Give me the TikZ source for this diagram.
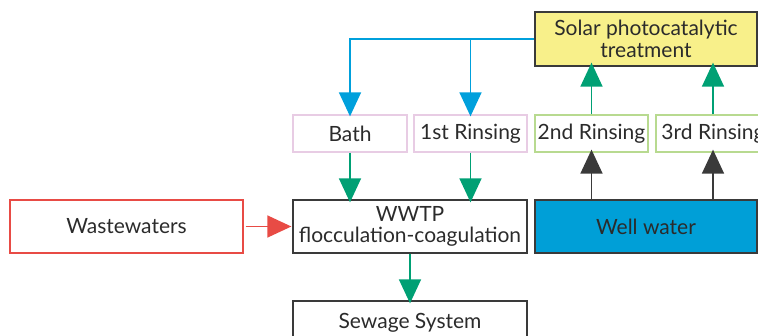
\documentclass[tikz,border=0pt]{standalone}
\usepackage{fontspec}
\setmainfont{Lato}
\usetikzlibrary{arrows.meta}
\definecolor{txt}{HTML}{2B2B2B}
\definecolor{cblue}{HTML}{00A0DC}
\definecolor{cgreen}{HTML}{00A074}
\definecolor{cred}{HTML}{E84B45}
\definecolor{cyellow}{HTML}{F8F08A}
\definecolor{cpink}{HTML}{E8CCE4}
\definecolor{clgreen}{HTML}{B8DA90}
\definecolor{cdark}{HTML}{3A3A3A}
\definecolor{cwell}{HTML}{009FD7}
\tikzset{
  box/.style={draw=#1, line width=1.3pt, inner sep=0pt, text=txt, align=center,
    font=\fontsize{21}{21.5}\selectfont},
  conn/.style={draw=#1, line width=1.5pt, -{Triangle[width=22pt,length=24pt,fill=#1]}},
}
\begin{document}
\begin{tikzpicture}[x=1pt,y=-1pt]
\useasboundingbox (0,0) rectangle (758,336);
\clip (0,0) rectangle (758,336);
\node[box=cdark, fill=cyellow, minimum width=222pt, minimum height=54pt] (solar) at (646,39) {Solar photocatalytic\\treatment};
\node[box=cpink, minimum width=114pt, minimum height=37pt] (bath) at (350,133.5) {Bath};
\node[box=cpink, minimum width=113pt, minimum height=37pt] (r1) at (470.5,133.5) {1st Rinsing};
\node[box=clgreen, minimum width=113pt, minimum height=37pt] (r2) at (591.5,133.5) {2nd Rinsing};
\node[box=clgreen, minimum width=114pt, minimum height=37pt] (r3) at (713,133.5) {3rd Rinsing};
\node[box=cred, minimum width=233pt, minimum height=53pt] (waste) at (126.5,226.5) {Wastewaters};
\node[box=cdark, minimum width=234pt, minimum height=53pt] (wwtp) at (410,226.5) {WWTP\\flocculation-coagulation};
\node[box=cdark, fill=cwell, minimum width=222pt, minimum height=53pt] (well) at (646,226.5) {Well water};
\node[box=cdark, minimum width=234pt, minimum height=44pt] (sewage) at (410,323) {Sewage System};
% blue
\coordinate (br) at (r1.north |- solar.west);
\draw[conn=cblue] (solar.west) -| ([yshift=-2pt]bath.north);
\draw[conn=cblue] (br) -- ([yshift=-2pt]r1.north);
% green up to solar
\draw[conn=cgreen] (r2.north) -- ([yshift=4pt]solar.south -| r2.north);
\draw[conn=cgreen] (r3.north |- r2.north) -- ([yshift=4pt]solar.south -| r3.north);
% dark from well
\draw[conn=cdark] (well.north -| r2.north) -- ([yshift=3pt]r2.south);
\draw[conn=cdark] (well.north -| r3.north) -- ([yshift=3pt]r3.south);
% green down
\draw[conn=cgreen] (bath.south) -- ([yshift=-3pt]bath.south |- wwtp.north);
\draw[conn=cgreen] (r1.south) -- ([yshift=-3pt]r1.south |- wwtp.north);
\draw[conn=cgreen] (wwtp.south) -- ([yshift=-3pt]sewage.north);
% red
\draw[conn=cred] ([xshift=2pt]waste.east) -- ([xshift=-1pt]wwtp.west);
\end{tikzpicture}
\end{document}
